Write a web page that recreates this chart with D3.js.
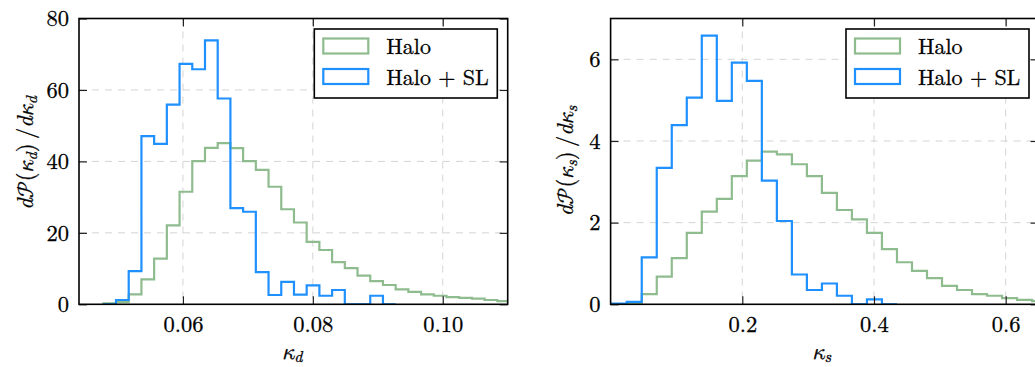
<!DOCTYPE html>
<html>
<head>
<meta charset="utf-8">
<script src="https://cdn.jsdelivr.net/npm/d3@7"></script>
<style>
body{margin:0;background:#fff;}
svg{display:block;}
</style>
</head>
<body>
<svg id="chart" width="1035" height="367"></svg>
<script>
// ---- data ----
const seriesNames = ["Halo", "Halo + SL"];
const seriesColors = ["#8fbc8f", "#1e90ff"];

// left panel: kappa_d, bins start at kdStart with width kdWidth
const kdStart = 0.04774, kdWidth = 0.001957;
const kdHalo = [0.3,0.6,2.8,7.0,12.8,22.1,31.5,40.1,43.8,45.1,43.7,40.1,37.6,32.9,26.6,22.9,17.5,15.2,11.8,10.1,8.0,6.5,5.4,4.2,3.5,2.8,2.4,2.0,1.8,1.6,1.2,0.9,0.7];
const kdHaloSL = [0,1.2,9.3,47.1,44.9,55.9,67.3,65.8,73.9,57.6,26.9,25.9,9.0,2.6,6.3,2.7,5.3,2.4,4.0,0,0,2.4,0];
const kdXTicks = [0.06, 0.08, 0.10];
const kdYTicks = [0, 20, 40, 60, 80];

// right panel: kappa_s
const ksStart = 0.0017, ksWidth = 0.0228;
const ksHalo = [0,0.02,0.25,0.68,1.13,1.75,2.27,2.58,3.14,3.52,3.74,3.67,3.43,3.14,2.73,2.31,2.08,1.75,1.35,1.03,0.82,0.64,0.45,0.35,0.25,0.21,0.15,0.11,0.08];
const ksHaloSL = [0.02,0.06,1.15,3.34,4.39,5.06,6.58,4.98,5.92,5.47,3.03,2.04,0.73,0.35,0.51,0.21,0,0.12,0];
const ksXTicks = [0.2, 0.4, 0.6];
const ksYTicks = [0, 2, 4, 6];

const FONT = "'Latin Modern Roman','Latin Modern Math','Liberation Serif',serif";
const svg = d3.select("#chart");
const top_ = 18.5, bottom_ = 304.3;

function stepPoints(start, width, vals){
  let pts = [[start, 0]];
  vals.forEach((v,i)=>{
    pts.push([start + i*width, v]);
    pts.push([start + (i+1)*width, v]);
  });
  pts.push([start + vals.length*width, 0]);
  return pts;
}

// a little stroke so the thin Latin Modern glyphs read as dark as the reference
function ink(sel){
  return sel.attr("fill", "#000").attr("stroke", "#000").attr("stroke-width", 0.3);
}

function panel(opt){
  const x = d3.scaleLinear().domain(opt.xDomain).range([opt.left, opt.right]);
  const y = d3.scaleLinear().domain(opt.yDomain).range([bottom_, top_]);
  const g = svg.append("g");
  const id = "clip" + opt.name;
  svg.append("clipPath").attr("id", id).append("rect")
    .attr("x", opt.left).attr("y", top_).attr("width", opt.right-opt.left).attr("height", bottom_-top_);

  // grid
  g.selectAll(".gx").data(opt.xTicks).enter().append("line")
    .attr("x1", d=>x(d)).attr("x2", d=>x(d)).attr("y1", top_).attr("y2", bottom_)
    .attr("stroke", "#d4d4d4").attr("stroke-width", 1).attr("stroke-dasharray", "7,6");
  g.selectAll(".gy").data(opt.yTicks.slice(1)).enter().append("line")
    .attr("y1", d=>y(d)).attr("y2", d=>y(d)).attr("x1", opt.left).attr("x2", opt.right)
    .attr("stroke", "#d4d4d4").attr("stroke-width", 1).attr("stroke-dasharray", "7,6");

  const line = d3.line().x(d=>x(d[0])).y(d=>y(d[1]));
  const hg = g.append("g").attr("clip-path", "url(#"+id+")");
  opt.series.forEach((vals,i)=>{
    hg.append("path").attr("d", line(stepPoints(opt.start, opt.width, vals)))
      .attr("fill", "none").attr("stroke", seriesColors[i]).attr("stroke-width", 2.2)
      .attr("stroke-linejoin", "miter");
  });

  // axes with inward ticks
  const ax = g.append("g").attr("transform", "translate(0,"+bottom_+")")
    .call(d3.axisBottom(x).tickValues(opt.xTicks).tickSize(-8).tickPadding(12).tickFormat(opt.xFmt));
  const ay = g.append("g").attr("transform", "translate("+opt.left+",0)")
    .call(d3.axisLeft(y).tickValues(opt.yTicks).tickSize(-8).tickPadding(10).tickFormat(d3.format("d")));
  const at = g.append("g").attr("transform", "translate(0,"+top_+")")
    .call(d3.axisTop(x).tickValues(opt.xTicks).tickSize(-8).tickFormat(""));
  const ar = g.append("g").attr("transform", "translate("+opt.right+",0)")
    .call(d3.axisRight(y).tickValues(opt.yTicks).tickSize(-8).tickFormat(""));
  [ax,ay,at,ar].forEach(a=>{
    a.select(".domain").remove();
    a.selectAll("line").attr("stroke", "#222").attr("stroke-width", 1.2);
    ink(a.selectAll("text").style("font-size", "22.5px").style("font-family", FONT));
  });

  g.append("rect").attr("x", opt.left).attr("y", top_)
    .attr("width", opt.right-opt.left).attr("height", bottom_-top_)
    .attr("fill", "none").attr("stroke", "#000").attr("stroke-width", 1.6);

  // x label
  const xl = ink(g.append("text").attr("x", (opt.left+Math.min(opt.right,1035))/2 - 1).attr("y", 359)
    .attr("text-anchor", "middle").style("font-family", FONT).style("font-size", "22.5px"));
  xl.append("tspan").attr("font-style", "italic").text("κ");
  xl.append("tspan").attr("font-style", "italic").style("font-size", "16px").attr("dy", 3).text(opt.sub);

  // y label
  const yl = ink(g.append("text").attr("transform", "translate("+opt.yLabX+","+opt.yLabY+") rotate(-90)")
    .attr("text-anchor", "middle").style("font-family", FONT).style("font-size", "22.5px"));
  yl.append("tspan").attr("font-style", "italic").text("d");
  yl.append("tspan").text("𝒫");
  yl.append("tspan").text("(");
  yl.append("tspan").attr("font-style", "italic").text("κ");
  yl.append("tspan").attr("font-style", "italic").style("font-size", "16px").attr("dy", 4).text(opt.sub);
  yl.append("tspan").attr("dy", -4).text(")\u2009/");
  yl.append("tspan").attr("font-style", "italic").text("dκ");
  yl.append("tspan").attr("font-style", "italic").style("font-size", "16px").attr("dy", 4).text(opt.sub);

  // legend
  const lg = g.append("g").attr("transform", "translate("+opt.legX+",29)");
  lg.append("rect").attr("width", 183).attr("height", 69)
    .attr("fill", "#fff").attr("stroke", "#000").attr("stroke-width", 1.6);
  seriesNames.forEach((s,i)=>{
    lg.append("rect").attr("x", 9).attr("y", 9.5 + i*30.5).attr("width", 45).attr("height", 15)
      .attr("fill", "none").attr("stroke", seriesColors[i]).attr("stroke-width", 2.2);
    ink(lg.append("text").attr("x", 72).attr("y", 25 + i*30.5).style("font-size", "22px")
      .style("font-family", FONT)).text(s);
  });
}

panel({name:"L", left:79, right:507.7, xDomain:[0.044,0.11], yDomain:[0,80],
  xTicks:kdXTicks, yTicks:kdYTicks, xFmt:d3.format(".2f"), start:kdStart, width:kdWidth,
  series:[kdHalo, kdHaloSL], sub:"d", yLabX:33, yLabY:153, legX:314.3});
panel({name:"R", left:610.6, right:1038.6, xDomain:[0,0.65], yDomain:[0,7],
  xTicks:ksXTicks, yTicks:ksYTicks, xFmt:d3.format(".1f"), start:ksStart, width:ksWidth,
  series:[ksHalo, ksHaloSL], sub:"s", yLabX:573, yLabY:161, legX:846});
</script>
</body>
</html>
